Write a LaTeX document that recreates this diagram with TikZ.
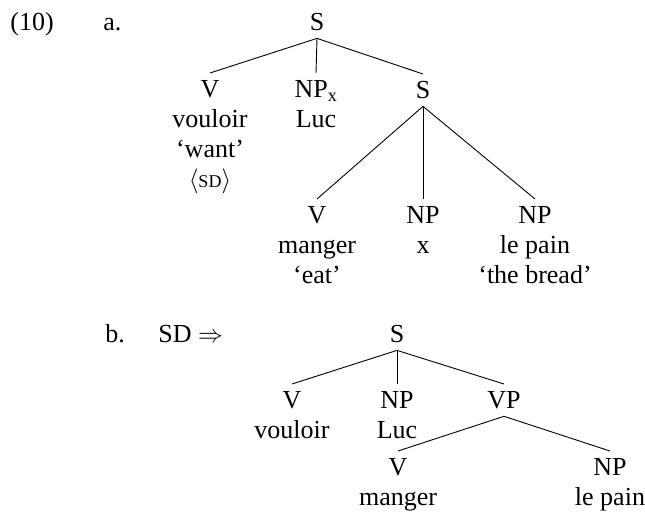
\documentclass[tikz,border=0pt]{standalone}
\usepackage{fontspec}
\setmainfont{Liberation Serif}
\newcommand{\sdfeat}{$\langle${\fontsize{18}{20}\selectfont SD}$\rangle$}
\begin{document}
\begin{tikzpicture}[x=1pt,y=-1pt,line width=0.9pt,
  font=\fontsize{26}{30}\selectfont,
  cat/.style={anchor=north,align=center,inner sep=7pt},
  lbl/.style={anchor=base west,inner sep=0pt}]
  \useasboundingbox (0,0) rectangle (645,514);

  % (10a)
  \node[lbl] (exnum) at (10,30) {(10)};
  \node[lbl] (exa) at (103,30) {a.};

  \node[cat] (aS) at (317,6) {S};
  \node[cat] (aV) at (210,73) {V\\vouloir\\`want'\\\sdfeat};
  \node[cat] (aNP) at (316,73) {NP\textsubscript{x}\\Luc};
  \node[cat] (aSS) at (423,74) {S};
  \draw (aS.south) -- (aV.north);
  \draw (aS.south) -- (aNP.north);
  \draw (aS.south) -- (aSS.north);

  \node[cat] (aVV) at (317,199) {V\\manger\\`eat'};
  \node[cat] (aNPx) at (423,199) {NP\\x};
  \node[cat] (aNPo) at (535,199) {NP\\le pain\\`the bread'};
  \draw (aSS.south) -- (aVV.north);
  \draw (aSS.south) -- (aNPx.north);
  \draw (aSS.south) -- (aNPo.north);

  % (10b)
  \node[lbl] (exb) at (105,342) {b.};
  \node[lbl] (exsd) at (158,342) {SD {\fontsize{23}{30}\selectfont$\Rightarrow$}};

  \node[cat] (bS) at (397,318) {S};
  \node[cat] (bV) at (292,384) {V\\vouloir};
  \node[cat] (bNP) at (397,384) {NP\\Luc};
  \node[cat] (bVP) at (504,384) {VP};
  \draw (bS.south) -- (bV.north);
  \draw (bS.south) -- (bNP.north);
  \draw (bS.south) -- (bVP.north);

  \node[cat] (bVV) at (398,451) {V\\manger};
  \node[cat] (bNPo) at (610,451) {NP\\le pain};
  \draw (bVP.south) -- (bVV.north);
  \draw (bVP.south) -- (bNPo.north);
\end{tikzpicture}
\end{document}
